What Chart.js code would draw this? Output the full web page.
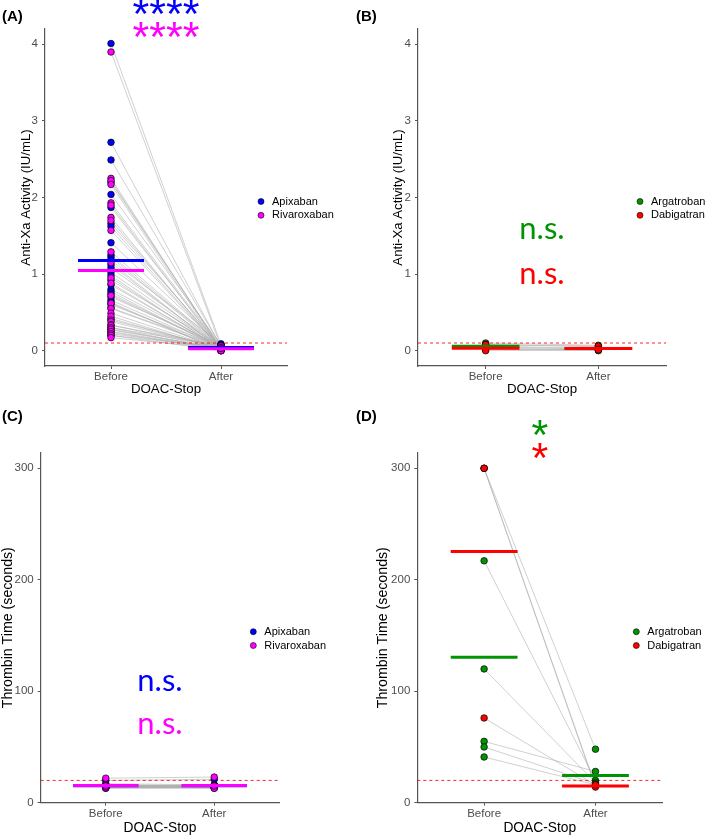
<!DOCTYPE html>
<html>
<head>
<meta charset="utf-8">
<script src="https://cdn.jsdelivr.net/npm/chart.js@4.4.1/dist/chart.umd.min.js"></script>
<style>
  body { margin: 0; background: #fff; width: 709px; height: 836px; position: relative; overflow: hidden; }
  .panel { position: absolute; }
  canvas { display: block; }
</style>
</head>
<body>
<div class="panel" style="left:0;top:0"><canvas id="chartA" width="354" height="400"></canvas></div>
<div class="panel" style="left:354px;top:0"><canvas id="chartB" width="355" height="400"></canvas></div>
<div class="panel" style="left:0;top:400px"><canvas id="chartC" width="354" height="436"></canvas></div>
<div class="panel" style="left:354px;top:400px"><canvas id="chartD" width="355" height="436"></canvas></div>
<script>
// categories and tick labels
const stages = ['Before', 'After'];
const xaTicks = [0, 1, 2, 3, 4];
const ttTicks = [0, 100, 200, 300];

// Anti-Xa activity (IU/mL), paired before / after
const apixabanXaBefore = [4.01, 2.72, 2.49, 2.20, 2.04, 1.87, 1.66, 1.62, 1.41, 1.25, 1.22, 1.18, 1.12, 1.08, 1.02, 0.98,
  0.92, 0.86, 0.80, 0.77, 0.74, 0.70, 0.66, 0.63, 0.60, 0.56, 0.42, 0.30, 0.27, 0.24, 0.20];
const apixabanXaAfter = [0.08, 0.05, 0.06, 0.04, 0.07, 0.03, 0.05, 0.02, 0.06, 0.04, 0.03, 0.09, 0.02, 0.05, 0.04, 0.01,
  0.06, 0.03, 0.05, 0.02, 0.04, 0.07, 0.03, 0.00, 0.05, 0.04, 0.02, 0.06, 0.03, 0.01, 0.04];
const rivaroxabanXaBefore = [3.90, 2.25, 2.22, 2.17, 1.93, 1.90, 1.74, 1.70, 1.57, 1.29, 1.15, 0.95, 0.88, 0.72, 0.62,
  0.55, 0.49, 0.45, 0.40, 0.38, 0.34, 0.33, 0.30, 0.28, 0.25, 0.22, 0.20, 0.17];
const rivaroxabanXaAfter = [0.05, 0.02, 0.03, 0.01, 0.04, 0.02, 0.00, 0.03, 0.02, 0.05, 0.01, 0.03, 0.02, 0.04, 0.00,
  0.03, 0.02, 0.01, 0.04, 0.03, 0.02, 0.06, 0.01, 0.03, 0.02, 0.04, 0.00, 0.03];
const argatrobanXaBefore = [0.10, 0.08, 0.06, 0.05, 0.03, 0.02];
const argatrobanXaAfter = [0.07, 0.05, 0.03, 0.02, 0.01, 0.00];
const dabigatranXaBefore = [0.08, 0.02, 0.00];
const dabigatranXaAfter = [0.06, 0.02, 0.01];

// Thrombin time (seconds), paired before / after
const apixabanTtBefore = [20, 17, 16, 15, 15, 14, 14, 14, 13, 15];
const apixabanTtAfter = [21, 16, 15, 15, 16, 14, 15, 14, 13, 14];
const rivaroxabanTtBefore = [22, 16, 15, 14, 14, 13, 14, 15];
const rivaroxabanTtAfter = [23, 15, 14, 15, 14, 14, 13, 15];
const argatrobanTtBefore = [300, 217, 120, 55, 50, 41];
const argatrobanTtAfter = [48, 20, 18, 28, 17, 16];
const dabigatranTtBefore = [300, 300, 76];
const dabigatranTtAfter = [15, 14, 16];

// cut-offs (dashed red line)
const xaCutoff = 0.1;
const ttCutoff = 20;

const colors = {
  Apixaban: '#0000FF',
  Rivaroxaban: '#FF00FF',
  Argatroban: '#009400',
  Dabigatran: '#FF0000'
};

const FONT = '"Liberation Sans", Arial, sans-serif';
Chart.defaults.font.family = FONT;

function mean(arr) {
  return arr.reduce((s, v) => s + v, 0) / arr.length;
}

// builds all datasets of one panel: grey pair lines, cut-off, points, mean bars
function buildDatasets(groups, cutoff) {
  const sets = [];
  groups.forEach(g => {
    g.before.forEach((b, i) => {
      sets.push({
        data: [{x: 1, y: b}, {x: 2, y: g.after[i]}],
        showLine: true,
        borderColor: 'rgba(175,175,175,0.65)',
        borderWidth: 0.9,
        pointRadius: 0,
        order: 5
      });
    });
  });
  sets.push({
    data: [{x: 0.4, y: cutoff}, {x: 2.6, y: cutoff}],
    showLine: true,
    borderColor: 'rgba(255,0,0,0.85)',
    borderWidth: 1,
    borderDash: [3, 3],
    pointRadius: 0,
    order: 4
  });
  groups.forEach((g, gi) => {
    sets.push({
      data: g.before.map(v => ({x: 1, y: v})).concat(g.after.map(v => ({x: 2, y: v}))),
      backgroundColor: colors[g.name],
      borderColor: '#000',
      borderWidth: 0.7,
      pointRadius: 3.3,
      order: 3 - gi * 0.1
    });
  });
  groups.forEach((g, gi) => {
    [[1, g.before], [2, g.after]].forEach(([pos, vals]) => {
      const m = mean(vals);
      sets.push({
        data: [{x: pos - 0.3, y: m}, {x: pos + 0.3, y: m}],
        showLine: true,
        borderColor: colors[g.name],
        borderWidth: 3,
        pointRadius: 0,
        order: 1 - gi * 0.1
      });
    });
  });
  return sets;
}

// panel label, legend and significance marks
const panelDecor = {
  id: 'panelDecor',
  afterDraw(chart, args, opts) {
    const {ctx, chartArea, scales} = chart;
    ctx.save();
    ctx.fillStyle = '#000';
    ctx.font = 'bold 15px ' + FONT;
    ctx.textAlign = 'left';
    ctx.textBaseline = 'middle';
    ctx.fillText(opts.label, 2, 17);

    const dotX = chartArea.right - 26;
    const midY = (chartArea.top + chartArea.bottom) / 2;
    ctx.font = '11px ' + FONT;
    opts.legend.forEach((name, i) => {
      const y = midY + 4 + i * 13.8;
      ctx.beginPath();
      ctx.arc(dotX, y, 3, 0, Math.PI * 2);
      ctx.fillStyle = colors[name];
      ctx.fill();
      ctx.lineWidth = 0.6;
      ctx.strokeStyle = '#000';
      ctx.stroke();
      ctx.fillStyle = '#000';
      ctx.fillText(name, dotX + 11, y);
    });

    opts.notes.forEach(n => {
      ctx.font = n.font;
      ctx.fillStyle = n.color;
      ctx.textAlign = 'center';
      ctx.textBaseline = 'alphabetic';
      const m = ctx.measureText(n.text);
      const px = scales.x.getPixelForValue(n.x);
      const py = scales.y.getPixelForValue(n.y);
      ctx.fillText(n.text, px, py + (m.actualBoundingBoxAscent - m.actualBoundingBoxDescent) / 2);
    });
    ctx.restore();
  }
};

function makeChart(id, p) {
  const ctx = document.getElementById(id).getContext('2d');
  return new Chart(ctx, {
    type: 'scatter',
    data: {datasets: buildDatasets(p.groups, p.cutoff)},
    options: {
      responsive: false,
      animation: false,
      events: [],
      clip: false,
      layout: {padding: {left: 0, top: p.top, right: p.right, bottom: 0}},
      plugins: {
        legend: {display: false},
        tooltip: {enabled: false},
        panelDecor: {label: p.label, legend: p.groups.map(g => g.name), notes: p.notes}
      },
      scales: {
        x: {
          type: 'linear',
          min: 0.4,
          max: 2.6,
          afterBuildTicks: s => { s.ticks = stages.map((_, i) => ({value: i + 1})); },
          afterFit: s => { s.height = p.xHeight; },
          ticks: {
            callback: v => stages[Math.round(v) - 1],
            color: '#4d4d4d',
            font: {size: 11.5},
            padding: 1,
            maxRotation: 0,
            autoSkip: false
          },
          grid: {drawOnChartArea: false, color: '#555', tickLength: 3},
          border: {color: '#555', width: 1.2},
          title: {
            display: true,
            text: 'DOAC-Stop',
            color: '#000',
            font: {size: p.xTitleSize, lineHeight: 1},
            padding: {top: 0, bottom: p.xTitlePad}
          }
        },
        y: {
          min: p.yMin,
          max: p.yMax,
          afterBuildTicks: s => { s.ticks = p.ticks.map(v => ({value: v})); },
          afterFit: s => { s.width = p.yWidth; },
          ticks: {
            callback: v => String(v),
            color: '#4d4d4d',
            font: {size: 11.5},
            padding: 4
          },
          grid: {drawOnChartArea: false, color: '#555', tickLength: 3},
          border: {color: '#555', width: 1.2},
          title: {
            display: true,
            text: p.yTitle,
            color: '#000',
            font: {size: p.yTitleSize, lineHeight: 1},
            padding: {top: p.yTitlePad, bottom: 0}
          }
        }
      }
    },
    plugins: [panelDecor]
  });
}

const starFont = '43px ' + FONT;
const nsFont = '31px Lato, "Open Sans", sans-serif';

makeChart('chartA', {
  label: '(A)',
  groups: [
    {name: 'Apixaban', before: apixabanXaBefore, after: apixabanXaAfter},
    {name: 'Rivaroxaban', before: rivaroxabanXaBefore, after: rivaroxabanXaAfter}
  ],
  cutoff: xaCutoff,
  yMin: -0.2, yMax: 4.2, ticks: xaTicks,
  yTitle: 'Anti-Xa Activity (IU/mL)', yTitleSize: 13.2, yTitlePad: 20,
  xTitleSize: 13.3, xTitlePad: 4,
  top: 29, right: 67, yWidth: 45, xHeight: 34,
  notes: [
    {x: 1.5, y: 4.49, text: '****', color: colors.Apixaban, font: starFont},
    {x: 1.5, y: 4.2, text: '****', color: colors.Rivaroxaban, font: starFont}
  ]
});

makeChart('chartB', {
  label: '(B)',
  groups: [
    {name: 'Argatroban', before: argatrobanXaBefore, after: argatrobanXaAfter},
    {name: 'Dabigatran', before: dabigatranXaBefore, after: dabigatranXaAfter}
  ],
  cutoff: xaCutoff,
  yMin: -0.2, yMax: 4.2, ticks: xaTicks,
  yTitle: 'Anti-Xa Activity (IU/mL)', yTitleSize: 13.2, yTitlePad: 38,
  xTitleSize: 13.3, xTitlePad: 4,
  top: 29, right: 43, yWidth: 64, xHeight: 34,
  notes: [
    {x: 1.5, y: 1.56, text: 'n.s.', color: colors.Argatroban, font: nsFont},
    {x: 1.5, y: 0.97, text: 'n.s.', color: colors.Dabigatran, font: nsFont}
  ]
});

makeChart('chartC', {
  label: '(C)',
  groups: [
    {name: 'Apixaban', before: apixabanTtBefore, after: apixabanTtAfter},
    {name: 'Rivaroxaban', before: rivaroxabanTtBefore, after: rivaroxabanTtAfter}
  ],
  cutoff: ttCutoff,
  yMin: 0, yMax: 314, ticks: ttTicks,
  yTitle: 'Thrombin Time (seconds)', yTitleSize: 14.2, yTitlePad: 0.5,
  xTitleSize: 13.8, xTitlePad: 1,
  top: 52.7, right: 74.7, yWidth: 40.7, xHeight: 33.3,
  notes: [
    {x: 1.5, y: 107.7, text: 'n.s.', color: colors.Apixaban, font: nsFont},
    {x: 1.5, y: 68.9, text: 'n.s.', color: colors.Rivaroxaban, font: nsFont}
  ]
});

makeChart('chartD', {
  label: '(D)',
  groups: [
    {name: 'Argatroban', before: argatrobanTtBefore, after: argatrobanTtAfter},
    {name: 'Dabigatran', before: dabigatranTtBefore, after: dabigatranTtAfter}
  ],
  cutoff: ttCutoff,
  yMin: 0, yMax: 314, ticks: ttTicks,
  yTitle: 'Thrombin Time (seconds)', yTitleSize: 14.2, yTitlePad: 22,
  xTitleSize: 13.8, xTitlePad: 1,
  top: 52.7, right: 46.7, yWidth: 63.3, xHeight: 33.3,
  notes: [
    {x: 1.5, y: 337, text: '*', color: colors.Argatroban, font: starFont},
    {x: 1.5, y: 316, text: '*', color: colors.Dabigatran, font: starFont}
  ]
});
</script>
</body>
</html>
